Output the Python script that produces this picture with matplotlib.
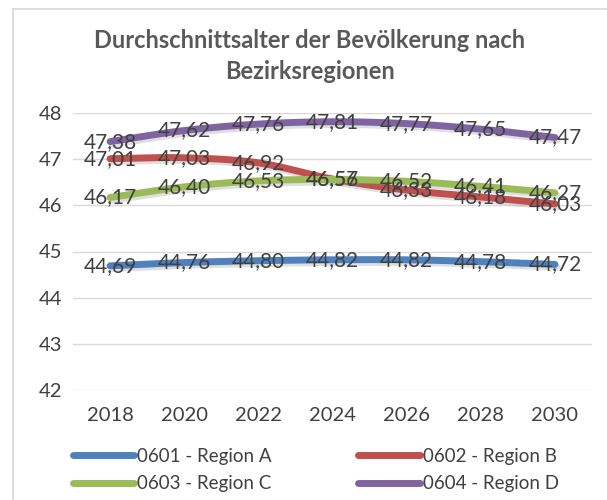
import numpy as np
import matplotlib
matplotlib.use("Agg")
import matplotlib.pyplot as plt
import matplotlib.patheffects as pe
from matplotlib.lines import Line2D

years = [2018, 2020, 2022, 2024, 2026, 2028, 2030]
series_names = ["0601 - Region A", "0602 - Region B", "0603 - Region C", "0604 - Region D"]
region_a = [44.69, 44.76, 44.80, 44.82, 44.82, 44.78, 44.72]
region_b = [47.01, 47.03, 46.92, 46.57, 46.33, 46.18, 46.03]
region_c = [46.17, 46.40, 46.53, 46.56, 46.52, 46.41, 46.27]
region_d = [47.38, 47.62, 47.76, 47.81, 47.77, 47.65, 47.47]
colors = ["#4F81BD", "#C0504D", "#9BBB59", "#8064A2"]
title = "Durchschnittsalter der Bevölkerung nach\nBezirksregionen"

plt.rcParams['font.family'] = ['Lato', 'DejaVu Sans']
text_color = "#404040"

def smooth(x, y, n=20):
    x = np.asarray(x, float); y = np.asarray(y, float)
    xs, ys = [], []
    for i in range(len(x) - 1):
        p0 = (x[i-1], y[i-1]) if i > 0 else (2*x[i]-x[i+1], 2*y[i]-y[i+1])
        p1 = (x[i], y[i]); p2 = (x[i+1], y[i+1])
        p3 = (x[i+2], y[i+2]) if i + 2 < len(x) else (2*x[i+1]-x[i], 2*y[i+1]-y[i])
        t = np.linspace(0, 1, n, endpoint=False)
        for k in range(2):
            a, b, c, d = p0[k], p1[k], p2[k], p3[k]
            v = 0.5*((2*b) + (-a + c)*t + (2*a - 5*b + 4*c - d)*t**2 + (-a + 3*b - 3*c + d)*t**3)
            (xs if k == 0 else ys).append(v)
    xs = np.concatenate(xs + [[x[-1]]]); ys = np.concatenate(ys + [[y[-1]]])
    return xs, ys

fig = plt.figure(figsize=(6.07, 5.0), dpi=100)
ax = fig.add_axes([73/607, 0.22, (592-73)/607, 0.554])

all_series = [region_a, region_b, region_c, region_d]
for vals, col in zip(all_series, colors):
    sx, sy = smooth(years, vals)
    ax.plot(sx, sy, color=col, lw=5, solid_capstyle='round', zorder=3,
            path_effects=[pe.SimpleLineShadow(offset=(1.5, -2), shadow_color='gray', alpha=0.25),
                          pe.Normal()])
for vals in all_series:
    for xv, yv in zip(years, vals):
        ax.text(xv, yv, f"{yv:.2f}".replace(".", ","), ha='center', va='center',
                fontsize=15, color=text_color, zorder=5)

ax.set_xlim(2017, 2031)
ax.set_ylim(42, 48)
ax.set_yticks(range(42, 49))
ax.set_xticks(years)
ax.grid(axis='y', color='#D9D9D9', lw=1)
ax.set_axisbelow(True)
for s in ax.spines.values():
    s.set_visible(False)
ax.tick_params(length=0, labelsize=14.5, colors=text_color, pad=8)
ax.tick_params(axis='x', pad=12)

fig.text(310/607, 1 - 56/500, title, ha='center', va='center', fontsize=17,
         fontweight='bold', color="#595959", linespacing=1.45)

order = [0, 2, 1, 3]
handles = [Line2D([0], [0], color=colors[i], lw=5, solid_capstyle='round') for i in order]
labels = [series_names[i] for i in order]
leg = fig.legend(handles, labels, loc='center', bbox_to_anchor=(0.52, 1 - 470/500),
                 ncol=2, frameon=False, fontsize=13.5, handlelength=3.3, handletextpad=0.15,
                 columnspacing=4.6, labelspacing=0.55, labelcolor=text_color)

fig.add_artist(Line2D([13/607, 13/607], [0, 1 - 9/500], color='#D9D9D9', lw=1.2))
fig.add_artist(Line2D([13/607, 1], [1 - 9/500, 1 - 9/500], color='#D9D9D9', lw=1.2))

fig.savefig("out.png", dpi=100)
